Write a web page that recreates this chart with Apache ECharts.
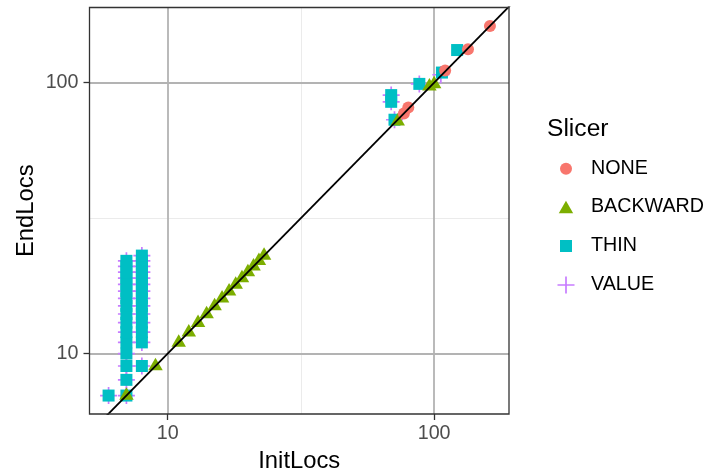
<!DOCTYPE html>
<html>
<head>
<meta charset="utf-8">
<script src="https://cdn.jsdelivr.net/npm/echarts@6/dist/echarts.min.js"></script>
<style>html,body{margin:0;padding:0;background:#fff;}#c{width:705px;height:475px;}</style>
</head>
<body>
<div id="c"></div>
<script>
// ---- data ----
const xTicks = [10, 100];
const yTicks = [10, 100];
const minorBreaks = [31.62];

const noneInit = [77, 80, 110, 134, 162];
const noneEnd  = [77, 81, 111, 133, 162];

const backwardInit = [7, 9, 11, 12, 13, 14, 15, 16, 17, 18, 19, 20, 21, 22, 23, 73, 96, 100];
const backwardEnd  = [7, 9, 11, 12, 13, 14, 15, 16, 17, 18, 19, 20, 21, 22, 23, 72, 97, 99];

const thinInit = [6, 7, 7, 7, 7, 7, 7, 7, 7, 7, 7, 7, 7, 7, 7, 7, 7,
                  8, 8, 8, 8, 8, 8, 8, 8, 8, 8, 8, 8, 8, 8,
                  69, 69, 71, 88, 107, 122];
const thinEnd  = [7, 7, 8, 9, 10, 11, 12, 13, 14, 15, 16, 17, 18, 19, 20, 21, 22,
                  9, 11, 12, 13, 14, 15, 16, 17, 18, 19, 20, 21, 22, 23,
                  85, 90, 73, 99, 109, 132];

const valueInit = [6, 7, 7, 7, 7, 7, 7, 7, 7, 7, 7, 7, 7, 7, 7, 7, 7,
                   8, 8, 8, 8, 8, 8, 8, 8, 8, 8, 8, 8, 8, 8,
                   69, 69, 71, 88, 106];
const valueEnd  = [7, 7, 8, 9, 10, 11, 12, 13, 14, 15, 16, 17, 18, 19, 20, 21, 22,
                   9, 11, 12, 13, 14, 15, 16, 17, 18, 19, 20, 21, 22, 23,
                   85, 90, 73, 99, 107];

const identityLine = [5, 200];

// ---- helpers ----
function zip(a, b) { return a.map((v, i) => [v, b[i]]); }

const FONT = "'Liberation Sans', Arial, Helvetica, sans-serif";
const COL = { NONE: '#F8766D', BACKWARD: '#7CAE00', THIN: '#00BFC4', VALUE: '#C77CFF' };
const triPath = 'path://M7,0L14,12.12L0,12.12Z';
const sqPath = 'path://M0,0H12V12H0Z';
const plusPath = 'path://M7.2,0H8.8V7.2H16V8.8H8.8V16H7.2V8.8H0V7.2H7.2Z';

const chart = echarts.init(document.getElementById('c'), null, { renderer: 'canvas' });

const KEY_X = 566, TEXT_X = 591;
function legendItem(name, icon, w, h, cy) {
  const left = KEY_X - w / 2;
  const pad = TEXT_X - (left + w + 5);
  return {
    data: [{ name: name, icon: icon }],
    left: left, top: cy - 10, padding: 0,
    itemWidth: w, itemHeight: h,
    selectedMode: false,
    textStyle: { fontFamily: FONT, fontSize: 19.7, color: '#000', lineHeight: 20, padding: [0, 0, 0, pad] }
  };
}

function gridLines(values, axisKey, color, width) {
  return values.map(v => ({ [axisKey]: v, lineStyle: { color: color, width: width, type: 'solid' } }));
}

const option = {
  animation: false,
  backgroundColor: '#fff',
  title: {
    text: 'Slicer', left: 547, top: 117, padding: 0,
    textStyle: { fontFamily: FONT, fontSize: 24.6, fontWeight: 'normal', color: '#000', lineHeight: 25 }
  },
  legend: [
    legendItem('NONE', 'circle', 12, 12, 168.8),
    legendItem('BACKWARD', triPath, 14.5, 12.5, 207),
    legendItem('THIN', sqPath, 12, 12, 246),
    legendItem('VALUE', plusPath, 17, 17, 285)
  ],
  grid: {
    left: 89.5, right: 196, top: 7.5, bottom: 61,
    outerBoundsMode: 'none', containLabel: false,
    show: true, borderColor: '#333333', borderWidth: 1.3,
    backgroundColor: 'transparent', z: 10
  },
  xAxis: {
    type: 'log', logBase: 10, min: 5.088, max: 191.0,
    name: 'InitLocs', nameLocation: 'middle', nameGap: 35, nameMoveOverlap: false,
    nameTextStyle: { fontFamily: FONT, fontSize: 23.8, color: '#000', lineHeight: 25 },
    axisLine: { show: false },
    axisTick: { show: true, length: 6, customValues: xTicks, lineStyle: { color: '#333333', width: 1.3 } },
    axisLabel: { customValues: xTicks, margin: 10, fontFamily: FONT, fontSize: 19.7, color: '#4D4D4D', lineHeight: 20 },
    splitLine: { show: false }
  },
  yAxis: {
    type: 'log', logBase: 10, min: 5.984, max: 189.5,
    name: 'EndLocs', nameLocation: 'middle', nameGap: 51, nameRotate: 90, nameMoveOverlap: false,
    nameTextStyle: { fontFamily: FONT, fontSize: 23.8, color: '#000', lineHeight: 25 },
    axisLine: { show: false },
    axisTick: { show: true, length: 6, customValues: yTicks, lineStyle: { color: '#333333', width: 1.3 } },
    axisLabel: { customValues: yTicks, margin: 11, fontFamily: FONT, fontSize: 19.7, color: '#4D4D4D' },
    splitLine: { show: false }
  },
  series: [
    {
      name: 'grid', type: 'scatter', data: [], z: 0, silent: true,
      markLine: {
        silent: true, z: 1, symbol: ['none', 'none'], label: { show: false }, animation: false,
        data: [].concat(
          gridLines(minorBreaks, 'xAxis', '#EBEBEB', 1),
          gridLines(minorBreaks, 'yAxis', '#EBEBEB', 1),
          gridLines(xTicks, 'xAxis', '#B3B3B3', 1.8),
          gridLines(yTicks, 'yAxis', '#B3B3B3', 1.8)
        )
      }
    },
    {
      name: 'VALUE', type: 'scatter', data: zip(valueInit, valueEnd),
      symbol: plusPath, symbolSize: 17, itemStyle: { color: COL.VALUE, opacity: 1 }
    },
    {
      name: 'THIN', type: 'scatter', data: zip(thinInit, thinEnd),
      symbol: 'rect', symbolSize: 12, itemStyle: { color: COL.THIN, opacity: 1 }
    },
    {
      name: 'BACKWARD', type: 'scatter', data: zip(backwardInit, backwardEnd),
      symbol: triPath, symbolSize: [14.5, 12.5], symbolOffset: [0, -2], itemStyle: { color: COL.BACKWARD, opacity: 1 }
    },
    {
      name: 'NONE', type: 'scatter', data: zip(noneInit, noneEnd),
      symbol: 'circle', symbolSize: 12, itemStyle: { color: COL.NONE, opacity: 1 }
    },
    {
      name: 'identity', type: 'line', data: zip(identityLine, identityLine),
      symbol: 'none', clip: true, silent: true,
      lineStyle: { color: '#000', width: 1.8 }
    }
  ]
};
chart.setOption(option);
</script>
</body>
</html>
